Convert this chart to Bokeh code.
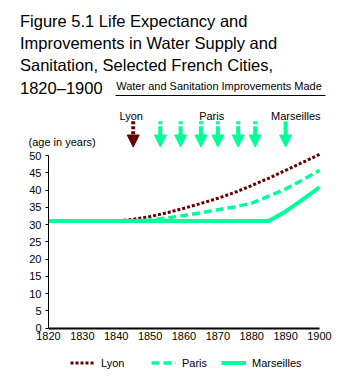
from bokeh.plotting import figure
from bokeh.models import (Arrow, NormalHead, Label, Legend, LegendItem,
                          ColumnDataSource, Range1d, FixedTicker)
from bokeh.embed import file_html
from bokeh.resources import INLINE

# ---------------- data ----------------
years = [1820, 1830, 1840, 1845, 1850, 1855, 1860, 1865, 1870, 1875, 1880, 1885, 1890, 1895, 1900]
lyon = [31, 31, 31, 31.5, 32.3, 33.4, 34.7, 36.1, 37.6, 39.3, 41.3, 43.4, 45.7, 48.0, 50.3]
paris = [31, 31, 31, 31, 31.3, 31.9, 32.6, 33.4, 34.3, 35.1, 36.2, 38.2, 40.3, 42.9, 45.7]
marseilles = [31, 31, 31, 31, 31, 31, 31, 31, 31, 31, 31, 31, 33.8, 37.2, 40.8]

lyon_works = [1845]
paris_works = [1853, 1859, 1865, 1870, 1876, 1881]
marseilles_works = [1890]

x_ticks = [1820, 1830, 1840, 1850, 1860, 1870, 1880, 1890, 1900]
y_ticks = [0, 5, 10, 15, 20, 25, 30, 35, 40, 45, 50]

title_lines = ["Figure 5.1 Life Expectancy and",
               "Improvements in Water Supply and",
               "Sanitation, Selected French Cities,",
               "1820\u20131900"]

LYON_C = "#660000"
GREEN = "#00FF99"
FONT = "Liberation Sans"

# ---------------- geometry (frame covers the whole canvas) ----------------
W, H = 360, 377
X0, X1 = 1820, 1900
AX_LEFT_PX, AX_RIGHT_PX = 48, 319
PX_PER_YR = (AX_RIGHT_PX - AX_LEFT_PX) / (X1 - X0)
Y_ZERO_PX, Y_50_PX = 327.5, 155
PX_PER_Y = (Y_ZERO_PX - Y_50_PX) / 50


def xd(px):
    return X0 + (px - AX_LEFT_PX) / PX_PER_YR


def yd(py):
    return (Y_ZERO_PX - py) / PX_PER_Y


p = figure(width=W, height=H, x_range=Range1d(xd(0), xd(W)), y_range=Range1d(yd(H), yd(0)),
           output_backend="svg", toolbar_location=None,
           min_border_left=0, min_border_right=0, min_border_top=0, min_border_bottom=0)
p.outline_line_color = None
p.xgrid.visible = False
p.ygrid.visible = False
p.background_fill_color = "white"
p.border_fill_color = "white"

# axes, pinned at the data origin
p.xaxis.fixed_location = 0
p.yaxis.fixed_location = X0
p.xaxis.ticker = FixedTicker(ticks=x_ticks)
p.xaxis.bounds = (X0, X1)
p.xaxis.axis_line_width = 2
p.xaxis.axis_line_color = "black"
p.xaxis.major_tick_out = 0
p.xaxis.major_tick_in = 0
p.xaxis.minor_tick_line_color = None
p.xaxis.major_label_standoff = 4

p.yaxis.ticker = FixedTicker(ticks=y_ticks)
p.yaxis.bounds = (0, 50)
p.yaxis.axis_line_color = "black"
p.yaxis.major_tick_out = 3
p.yaxis.major_tick_in = 0
p.yaxis.major_tick_line_color = "black"
p.yaxis.minor_tick_line_color = None
p.yaxis.major_label_standoff = 4

for ax in (p.xaxis, p.yaxis):
    ax.major_label_text_font = FONT
    ax.major_label_text_font_size = "11px"
    ax.major_label_text_color = "black"

# lines
r_lyon = p.line(years, lyon, line_color=LYON_C, line_width=3, line_dash="3 2")
r_paris = p.line(years, paris, line_color=GREEN, line_width=3.5, line_dash="8 4")
r_mars = p.line(years, marseilles, line_color=GREEN, line_width=4)

# arrows
y_top = yd(120.7)
y_tip = yd(146.5)


def add_arrows(xs, color, dash):
    src = ColumnDataSource(dict(x=xs, y0=[y_top] * len(xs), y1=[y_tip] * len(xs)))
    p.add_layout(Arrow(end=NormalHead(size=12, fill_color=color, line_color=color, line_width=1),
                       x_start="x", y_start="y0", x_end="x", y_end="y1", source=src,
                       line_color=color, line_width=4, line_dash=dash))


add_arrows(lyon_works, LYON_C, "3 2")
add_arrows(paris_works, GREEN, "3 2 20")
add_arrows(marseilles_works, GREEN, "solid")


def label(x, y, text, size="11px", align="left"):
    p.add_layout(Label(x=x, y=y, text=text, text_font=FONT, text_font_size=size,
                       text_align=align, text_baseline="alphabetic", text_color="black"))


label(xd(130.7), yd(115.5), "Lyon", align="center")
label(xd(211.2), yd(115.5), "Paris", align="center")
label(xd(295.3), yd(115.5), "Marseilles", align="center")
label(xd(218.5), yd(85), "Water and Sanitation Improvements Made", align="center")
p.add_layout(Arrow(start=None, end=None, x_start=xd(115), y_start=yd(95), x_end=xd(325),
                   y_end=yd(95), line_color="black", line_width=1))
label(xd(28), yd(141.7), "(age in years)")

for i, t in enumerate(title_lines):
    label(xd(19.5), yd(20 + 22.4 * i), t, size="16.5px")

# legends (one per series, placed like the original's row)
for r, name, xpx in [(r_lyon, "Lyon", 70), (r_paris, "Paris", 151), (r_mars, "Marseilles", 221)]:
    leg = Legend(items=[LegendItem(label=name, renderers=[r])], location=(xpx, 8),
                 glyph_width=25, glyph_height=13, label_height=13, label_standoff=6,
                 padding=0, margin=0, spacing=0, border_line_color=None,
                 background_fill_alpha=0, label_text_font=FONT, label_text_font_size="11px",
                 label_text_color="black")
    p.add_layout(leg)

open("out.html", "w").write(file_html(p, INLINE))
